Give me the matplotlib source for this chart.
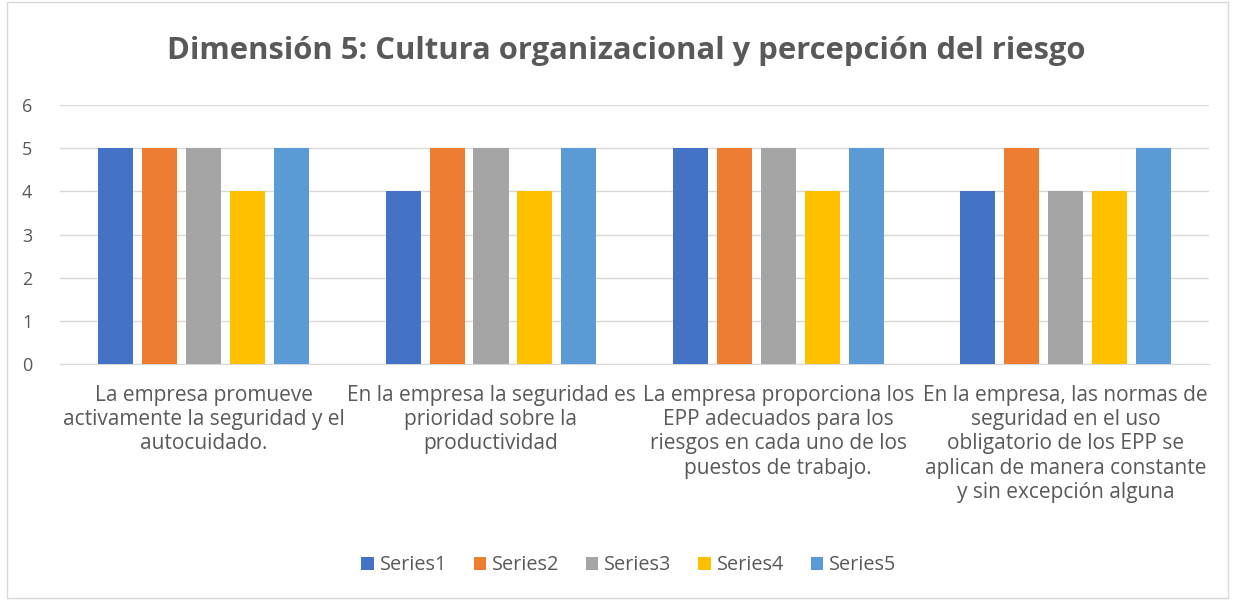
import matplotlib
matplotlib.use("Agg")
import matplotlib.pyplot as plt
import numpy as np
from matplotlib.patches import Rectangle

categories = [
    "La empresa promueve\nactivamente la seguridad y el\nautocuidado.",
    "En la empresa la seguridad es\nprioridad sobre la\nproductividad",
    "La empresa proporciona los\nEPP adecuados para los\nriesgos en cada uno de los\npuestos de trabajo.",
    "En la empresa, las normas de\nseguridad en el uso\nobligatorio de los EPP se\naplican de manera constante\ny sin excepción alguna",
]
series_names = ["Series1", "Series2", "Series3", "Series4", "Series5"]
series1 = [5, 4, 5, 4]
series2 = [5, 5, 5, 5]
series3 = [5, 5, 5, 4]
series4 = [4, 4, 4, 4]
series5 = [5, 5, 5, 5]
all_series = [series1, series2, series3, series4, series5]
colors = ["#4472C4", "#ED7D31", "#A5A5A5", "#FFC000", "#5B9BD5"]
yticks = [0, 1, 2, 3, 4, 5, 6]
title = "Dimensión 5: Cultura organizacional y percepción del riesgo"

plt.rcParams['font.family'] = ['Open Sans', 'DejaVu Sans']
fig = plt.figure(figsize=(12.33, 6), dpi=100)
ax = fig.add_axes([0.0487, 0.393, 0.932, 0.432])

x = np.arange(len(categories))
step = 0.153
width = 0.122
for i, (vals, name, c) in enumerate(zip(all_series, series_names, colors)):
    ax.bar(x + (i - 2) * step, vals, width=width, color=c, label=name, zorder=3)

ax.set_xlim(-0.5, len(categories) - 0.5)
ax.set_ylim(0, 6)
ax.set_yticks(yticks)
ax.yaxis.grid(True, color="#D9D9D9", linewidth=1, zorder=0)
ax.set_axisbelow(True)
for s in ["top", "right", "left"]:
    ax.spines[s].set_visible(False)
ax.spines["bottom"].set_color("#D9D9D9")
ax.tick_params(axis="y", length=0, labelsize=13, labelcolor="#595959", pad=20)
ax.tick_params(axis="x", length=0, labelsize=15, labelcolor="#595959", pad=15)
ax.set_xticks(x)
ax.set_xticklabels(categories, linespacing=1.2)

fig.text(0.508, 0.915, title, ha="center", va="center", fontsize=22.3, fontweight="bold", color="#595959")

leg = fig.legend(loc="center", bbox_to_anchor=(0.51, 0.058), ncol=5, frameon=False,
                 fontsize=14.3, handlelength=0.62, handleheight=0.62, handletextpad=0.3, columnspacing=1.35)
for t in leg.get_texts():
    t.set_color("#595959")

fig.patches.append(Rectangle((0.006, 0.003), 0.99, 0.994, transform=fig.transFigure,
                             fill=False, edgecolor="#D9D9D9", linewidth=1))
fig.savefig("out.png", dpi=100)
